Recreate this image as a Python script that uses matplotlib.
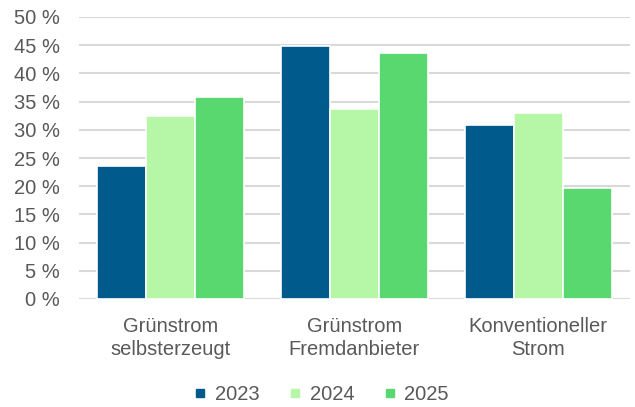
import numpy as np
import matplotlib
matplotlib.use("Agg")
import matplotlib.pyplot as plt
from matplotlib.lines import Line2D
from matplotlib.ticker import MultipleLocator, FuncFormatter

# Anteil der Stromarten je Jahr (in %)
categories = ["Grünstrom\nselbsterzeugt", "Grünstrom\nFremdanbieter", "Konventioneller\nStrom"]
years = ["2023", "2024", "2025"]
share_2023 = [23.5, 44.9, 30.8]
share_2024 = [32.4, 33.7, 33.0]
share_2025 = [35.8, 43.7, 19.7]

COLORS = ["#005b8c", "#b5f7a7", "#5ad870"]
TEXT = "#595959"
GRID = "#d9d9d9"
FS = 14.5

plt.rcParams["font.family"] = ["Liberation Sans", "DejaVu Sans"]

fig = plt.figure(figsize=(6.35, 4.07), dpi=100)
ax = fig.add_axes([79 / 635, 108 / 407, 551 / 635, 282 / 407])

x = np.arange(len(categories))
width = 0.267
for i, (vals, year) in enumerate(zip([share_2023, share_2024, share_2025], years)):
    ax.bar(x + (i - 1) * width, vals, width=width, color=COLORS[i],
           edgecolor="white", linewidth=1.2, label=year, zorder=3)

ax.set_xlim(-0.5, 2.5)
ax.set_ylim(0, 50)
ax.yaxis.set_major_locator(MultipleLocator(5))
ax.yaxis.set_major_formatter(FuncFormatter(lambda v, _: f"{v:.0f} %"))
ax.grid(axis="y", color=GRID, linewidth=1.5, zorder=0)
ax.set_axisbelow(True)
for s in ax.spines.values():
    s.set_visible(False)

ax.set_xticks(x)
ax.set_xticklabels(categories, fontsize=FS, color=TEXT, linespacing=1.25)
ax.tick_params(axis="x", length=0, pad=13)
ax.tick_params(axis="y", length=0, pad=14, labelsize=FS, labelcolor=TEXT)

handles = [Line2D([0], [0], marker="s", linestyle="none", markersize=6,
                  markerfacecolor=c, markeredgecolor=c) for c in COLORS]
fig.legend(handles, years, loc="lower center", bbox_to_anchor=(0.505, -0.038),
           ncol=3, frameon=False, fontsize=FS, labelcolor=TEXT,
           handletextpad=0.3, columnspacing=1.4, handlelength=0.8)

fig.savefig("out.png", dpi=100)
